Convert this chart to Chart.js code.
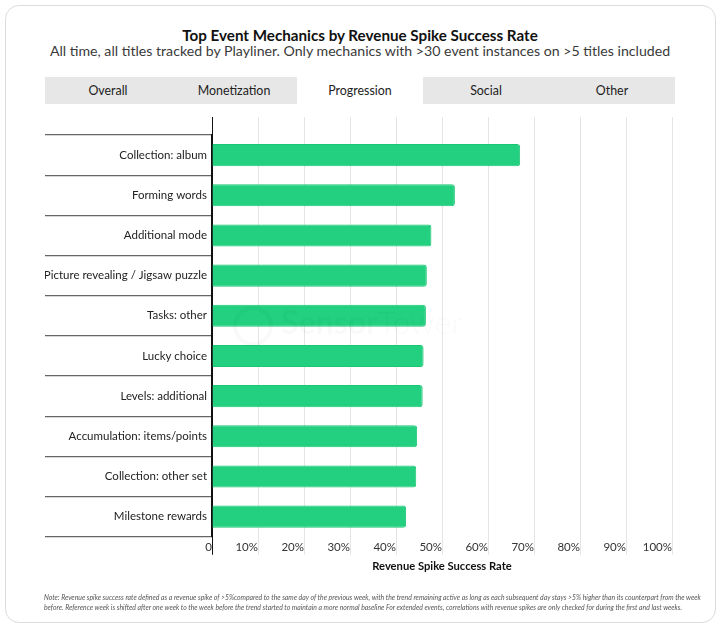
<!DOCTYPE html>
<html><head><meta charset="utf-8">
<script src="https://cdn.jsdelivr.net/npm/chart.js@4/dist/chart.umd.min.js"></script>
<style>
html,body{margin:0;padding:0;background:#fff;width:720px;height:629px;overflow:hidden;font-family:Lato,"Noto Sans",sans-serif;}
#card{position:absolute;left:5px;top:5px;width:711px;height:618px;border:1px solid #dcdcdc;border-radius:14px;box-sizing:border-box;}
#title{position:absolute;left:0;width:720px;top:26px;text-align:center;font-weight:bold;font-size:15.2px;color:#111;line-height:18px;}
#subtitle{position:absolute;left:0;width:720px;top:42px;text-align:center;font-size:14.15px;color:#3a3a3a;line-height:18px;}
#tabs{position:absolute;left:45px;top:77px;width:630px;height:27px;background:#e7e7e7;display:flex;}
#tabs div{width:126px;text-align:center;font-size:12.4px;line-height:27px;color:#222;}
#tabs div.active{background:#fff;}
#wm{position:absolute;left:233px;top:303px;font-size:32px;line-height:38px;color:rgba(0,0,0,0.025);pointer-events:none;white-space:nowrap;}
#wm .c{display:inline-block;width:40px;height:40px;border:4px solid rgba(0,0,0,0.025);border-radius:50%;box-sizing:border-box;vertical-align:middle;margin-right:8px;}
#note{position:absolute;left:44px;top:593px;white-space:nowrap;font-size:6.85px;line-height:9.6px;font-style:italic;color:#555;}
canvas{position:absolute;left:0;top:0;}
</style></head>
<body>
<div id="card"></div>
<div id="title">Top Event Mechanics by Revenue Spike Success Rate</div>
<div id="subtitle">All time, all titles tracked by Playliner. Only mechanics with &gt;30 event instances on &gt;5 titles included</div>
<div id="tabs"><div>Overall</div><div>Monetization</div><div class="active">Progression</div><div>Social</div><div>Other</div></div>
<canvas id="c" width="720" height="629"></canvas>
<div id="wm"><span class="c"></span><b>Sensor</b><span style="font-weight:300">Tower</span></div>
<div id="note">Note: Revenue spike success rate defined as a revenue spike of &gt;5%compared to the same day of the previous week, with the trend remaining active as long as each subsequent day stays &gt;5% higher than its counterpart from the week<br>before. Reference week is shifted after one week to the week before the trend started to maintain a more normal baseline For extended events, correlations with revenue spikes are only checked for during the first and last weeks.</div>
<script>
const categories = [
  "Collection: album",
  "Forming words",
  "Additional mode",
  "Picture revealing / Jigsaw puzzle",
  "Tasks: other",
  "Lucky choice",
  "Levels: additional",
  "Accumulation: items/points",
  "Collection: other set",
  "Milestone rewards"
];
const successRate = [67.0, 52.8, 47.7, 46.7, 46.5, 46.0, 45.8, 44.6, 44.4, 42.2];
const xMin = 0, xMax = 100, xStep = 10;
const axisTitle = "Revenue Spike Success Rate";

const tickCol = ctx => (ctx.tick && ctx.tick.value === 0) ? '#111' : '#e4e4e4';

new Chart(document.getElementById('c'), {
  type: 'bar',
  data: {
    labels: categories,
    datasets: [{
      data: successRate,
      backgroundColor: '#22d07f',
      borderColor: '#1cc575',
      borderWidth: 1,
      borderRadius: 3,
      barPercentage: 0.55,
      categoryPercentage: 1
    }]
  },
  options: {
    indexAxis: 'y',
    responsive: false,
    animation: false,
    devicePixelRatio: 1,
    layout: { padding: { top: 117, left: 45, right: 48, bottom: 56 } },
    plugins: { legend: { display: false }, tooltip: { enabled: false } },
    scales: {
      y: {
        type: 'category',
        offset: true,
        afterFit: s => { s.width = 167; },
        grid: { offset: true, drawOnChartArea: false, drawTicks: true, tickLength: 167, color: '#666', lineWidth: 1.2 },
        border: { display: true, color: '#111', width: 1.3 },
        ticks: { padding: -162, color: '#222', font: { family: 'Lato', size: 11.5 } }
      },
      x: {
        type: 'linear',
        position: 'bottom',
        min: xMin, max: xMax,
        ticks: {
          stepSize: xStep, align: 'end', padding: -14, color: '#333',
          font: { family: 'Lato', size: 11.5 },
          callback: v => v === 0 ? '0' : v + '%'
        },
        grid: { color: tickCol, tickColor: tickCol, drawTicks: true, tickLength: 18, lineWidth: 1 },
        border: { display: false },
        title: { display: true, text: axisTitle, color: '#111', font: { family: 'Lato', size: 11.2, weight: 'bold' }, padding: { top: 19, bottom: 0 } }
      },
      xTop: {
        type: 'linear',
        position: 'top',
        axis: 'x',
        min: xMin, max: xMax,
        ticks: { display: false, stepSize: xStep },
        grid: { drawOnChartArea: false, drawTicks: true, tickLength: 18, color: tickCol, tickColor: tickCol },
        border: { display: false }
      }
    }
  }
});
</script>
</body></html>
